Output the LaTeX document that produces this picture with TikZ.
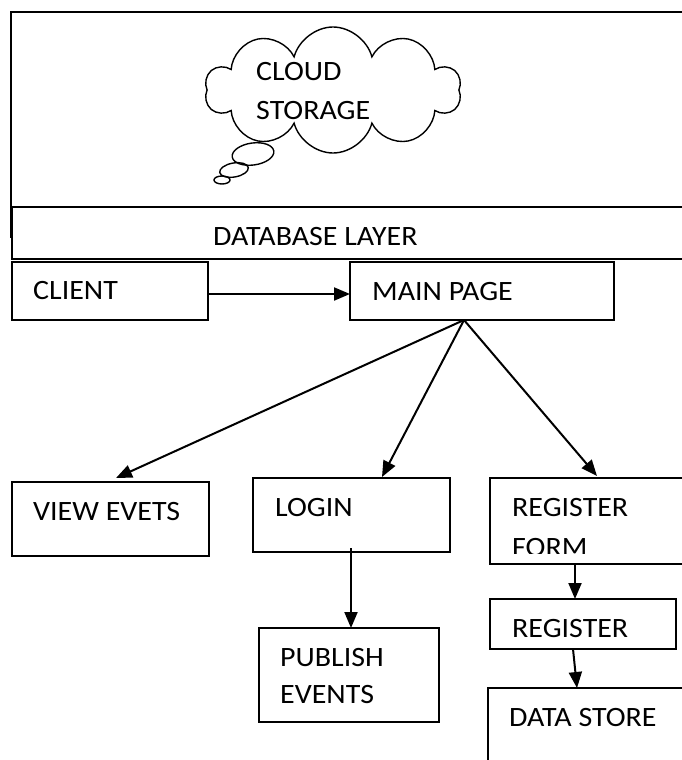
\documentclass[tikz,border=0pt]{standalone}
\usepackage{fontspec}
\setmainfont{Carlito}[FakeStretch=1.07]
\usetikzlibrary{shapes.symbols,shapes.geometric,arrows.meta,calc}
\begin{document}
\begin{tikzpicture}[x=1pt,y=-1pt,
  box/.style={draw, line width=1.6pt, rectangle, inner sep=0pt, outer sep=0pt, anchor=north west, fill=white},
  lbl/.style={inner sep=0pt, anchor=base west, font=\fontsize{28}{34}\selectfont},
  arr/.style={line width=2pt, -{Triangle[length=16pt,width=13pt]}},
  bubble/.style={ellipse, draw, line width=1.4pt, inner sep=0pt},
]
\useasboundingbox (0,0) rectangle (682,760);
\clip (0,0) rectangle (682,760);

% outer storage frame and database layer
\node[box, fill=none, minimum width=709pt, minimum height=225pt] (frame) at (11,12) {};
\node[box, minimum width=708pt, minimum height=52pt] (db) at (12,207) {};
\node[lbl] (dbT) at (213,245) {DATABASE LAYER};

% cloud
\node[cloud, draw, line width=1.4pt, cloud puffs=10, aspect=2, minimum width=256pt, minimum height=126pt] (cloud) at (333,90) {};
\node[bubble, rotate=8, minimum width=42pt, minimum height=22pt] (b1) at (253,154) {};
\node[bubble, rotate=10, minimum width=29pt, minimum height=14pt] (b2) at (234,170) {};
\node[bubble, minimum width=16pt, minimum height=8pt] (b3) at (222,180) {};
\node[lbl] (cloudT1) at (256,81) {CLOUD};
\node[lbl] (cloudT2) at (256,119) {STORAGE};

% boxes
\node[box, minimum width=196pt, minimum height=58pt] (client) at (12,262) {};
\node[box, minimum width=264pt, minimum height=58pt] (main) at (350,262) {};
\node[box, minimum width=197pt, minimum height=74pt] (view) at (12,482) {};
\node[box, minimum width=197pt, minimum height=74pt] (login) at (253,478) {};
\node[box, minimum width=220pt, minimum height=86pt] (regform) at (490,478) {};
\node[box, minimum width=186pt, minimum height=50pt] (register) at (490,599) {};
\node[box, minimum width=180pt, minimum height=94pt] (publish) at (259,628) {};
\node[box, minimum width=230pt, minimum height=120pt] (datastore) at (488,688) {};

% labels
\node[lbl] (clientT) at (33,299) {CLIENT};
\node[lbl] (mainT) at (372,300) {MAIN PAGE};
\node[lbl] (viewT) at (33,520) {VIEW EVETS};
\node[lbl] (loginT) at (275,516) {LOGIN};
\node[lbl] (regformT1) at (512,516) {REGISTER};
\begin{scope}
  \clip (490,478) rectangle (700,553);
  \node[lbl] (regformT2) at (512,556) {FORM};
\end{scope}
\node[lbl] (registerT) at (512,637) {REGISTER};
\node[lbl] (publishT1) at (280,666) {PUBLISH};
\node[lbl] (publishT2) at (280,703) {EVENTS};
\node[lbl] (datastoreT) at (509,726) {DATA STORE};

% connectors
\coordinate (mp) at ($(main.south west)+(114,0)$);
\draw[arr] ($(client.north east)+(0,32)$) -- ($(main.north west)+(0,32)$);
\draw[arr] (mp) -- ($(view.north west)+(104,-4)$);
\draw[arr] (mp) -- ($(login.north west)+(129,-1)$);
\draw[arr] (mp) -- ($(regform.north west)+(107,-2)$);
\draw[arr] ($(login.south west)+(98,-4)$) -- ($(publish.north west)+(92,0)$);
\draw[arr] ($(regform.south west)+(85,0)$) -- ($(register.north west)+(85,0)$);
\draw[arr] ($(register.south west)+(83,0)$) -- ($(datastore.north west)+(89,0)$);
\end{tikzpicture}
\end{document}
